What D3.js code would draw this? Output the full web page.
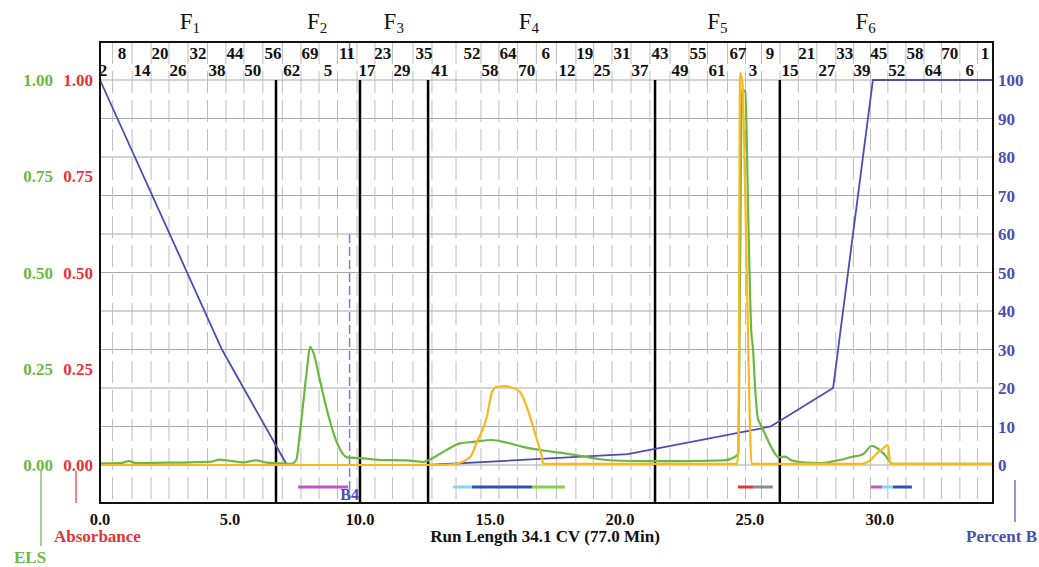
<!DOCTYPE html>
<html>
<head>
<meta charset="utf-8">
<script src="https://cdn.jsdelivr.net/npm/d3@7"></script>
<style>
  body { margin: 0; background: #fff; }
  svg text { font-family: "Liberation Serif", "DejaVu Serif", serif; font-weight: bold; }
  svg text.flabel { font-weight: normal; }
</style>
</head>
<body>
<svg id="chart" width="1039" height="567"></svg>
<script>
'use strict';

// ---- data ----
const xTicks = [0, 5, 10, 15, 20, 25, 30];
const leftTicks = [0, 0.25, 0.5, 0.75, 1];
const rightTicks = [0, 10, 20, 30, 40, 50, 60, 70, 80, 90, 100];

// tube numbers along the top and where they sit (CV)
const tubeLabels = ["2","8","14","20","26","32","38","44","50","56","62","69","5","11","17","23","29","35","41",
  "52","58","64","70","6","12","19","25","31","37","43","49","55","61","67","3","9","15","21","27","33","39","45",
  "52","58","64","70","6","1"];
const tubePos = [0.12,0.85,1.62,2.31,3.0,3.77,4.5,5.19,5.88,6.65,7.38,8.08,8.77,9.5,10.27,10.88,11.62,12.46,13.08,
  14.31,15.0,15.69,16.42,17.15,17.96,18.65,19.31,20.08,20.77,21.54,22.31,23.0,23.73,24.54,25.12,25.77,26.54,27.19,
  27.96,28.65,29.31,29.96,30.65,31.35,32.04,32.69,33.46,34.04];

// fractions F1..F6
const fractionNames = ["1", "2", "3", "4", "5", "6"];
const fractionLabelPos = [3.46, 8.35, 11.3, 16.5, 23.75, 29.45];
const fractionDividers = [6.77, 10.0, 12.62, 21.35, 26.15];

// ELS trace (CV, signal)
const els = [[0,0.004],[0.8,0.005],[1.1,0.01],[1.4,0.005],[2.5,0.006],[3.5,0.007],[4.3,0.009],[4.6,0.014],[5.0,0.011],
  [5.5,0.007],[6.0,0.012],[6.4,0.006],[7.0,0.004],[7.35,0.003],[7.55,0.013],[7.7,0.09],[7.96,0.247],[8.08,0.307],
  [8.2,0.293],[8.46,0.22],[8.73,0.143],[9.12,0.057],[9.5,0.02],[10.0,0.018],[10.8,0.013],[11.8,0.012],[12.4,0.008],
  [12.8,0.018],[13.35,0.04],[13.85,0.056],[14.35,0.06],[15.08,0.065],[15.65,0.058],[16.27,0.047],[16.92,0.039],
  [17.7,0.032],[18.46,0.024],[19.23,0.015],[20.0,0.011],[21.0,0.01],[22.5,0.01],[24.0,0.012],[24.4,0.02],[24.55,0.03],
  [24.62,0.5],[24.69,0.975],[24.82,0.97],[24.95,0.6],[25.05,0.35],[25.12,0.3],[25.2,0.2],[25.31,0.12],[25.45,0.1],
  [25.65,0.07],[25.96,0.03],[26.1,0.02],[26.35,0.022],[26.6,0.012],[27.2,0.006],[27.7,0.005],[28.46,0.013],
  [28.85,0.02],[29.35,0.028],[29.69,0.05],[29.88,0.044],[30.19,0.026],[30.5,0.003],[31.5,0.003],[34.35,0.003]];

// absorbance trace (CV, signal)
const absorbance = [[0,0.0],[13.0,0.0],[13.58,0.002],[14.23,0.02],[14.5,0.06],[14.88,0.125],[15.08,0.19],[15.27,0.203],
  [15.6,0.205],[15.88,0.2],[16.15,0.19],[16.42,0.15],[16.73,0.083],[16.92,0.04],[17.0,0.02],[17.03,0.003],[24.5,0.003],
  [24.56,0.05],[24.62,1.018],[24.7,1.0],[24.85,0.6],[25.0,0.1],[25.06,0.003],[29.3,0.003],[29.62,0.012],[29.88,0.03],
  [30.12,0.043],[30.31,0.052],[30.4,0.003],[34.35,0.003]];

// gradient (CV, %B)
const percentB = [[0,100],[4.69,30],[7.19,0],[12.6,0],[20.3,2.8],[25.8,10],[28.2,20],[29.73,100],[34.35,100]];

// collected tube bars [start CV, end CV, colour]
const tubeBars = [[7.62,9.54,"#c455c8"],[13.58,14.31,"#7fd9ea"],[14.31,16.62,"#2f4fbf"],[16.62,17.88,"#86d043"],
  [24.54,25.12,"#e23434"],[25.12,25.88,"#8a8a8a"],[29.65,30.08,"#c455c8"],[30.08,30.5,"#7fd9ea"],[30.5,31.23,"#2f4fbf"]];

const markerPos = 9.6;   // B4 marker

// ---- layout ----
const green = "#6cb83f", red = "#e5333a", blue = "#4a4db3";
const plotLeft = 100, plotRight = 993, plotTop = 42, plotBottom = 503;

const svg = d3.select("#chart");
const x = d3.scaleLinear().domain([0, 34.35]).range([plotLeft, plotRight]);
const yL = d3.scaleLinear().domain([0, 1]).range([465, 80]);
const yR = d3.scaleLinear().domain([0, 100]).range([465, 80]);

// horizontal grid
svg.append("g").selectAll("line").data(rightTicks).enter().append("line")
  .attr("x1", plotLeft).attr("x2", plotRight)
  .attr("y1", d => yR(d)).attr("y2", d => yR(d))
  .attr("stroke", "#a8a8a8").attr("stroke-width", 1);

// dashed tube boundaries (between tube labels)
const bounds = [];
for (let i = 0; i < tubePos.length - 1; i++) bounds.push((tubePos[i] + tubePos[i + 1]) / 2);
svg.append("g").selectAll("line").data(bounds).enter().append("line")
  .attr("x1", d => x(d)).attr("x2", d => x(d))
  .attr("y1", plotTop).attr("y2", plotBottom)
  .attr("stroke", "#bdbdbd").attr("stroke-width", 1)
  .attr("stroke-dasharray", "22,7");

// fraction dividers
svg.append("g").selectAll("line").data(fractionDividers).enter().append("line")
  .attr("x1", d => x(d)).attr("x2", d => x(d))
  .attr("y1", 80).attr("y2", plotBottom)
  .attr("stroke", "#000").attr("stroke-width", 2.5);

// B4 marker
svg.append("line").attr("x1", x(markerPos)).attr("x2", x(markerPos))
  .attr("y1", yL(0.6)).attr("y2", 500)
  .attr("stroke", "#7b7bd8").attr("stroke-width", 1.5).attr("stroke-dasharray", "9,4");
svg.append("line").attr("x1", x(markerPos)).attr("x2", x(markerPos))
  .attr("y1", plotTop + 1).attr("y2", 57)
  .attr("stroke", "#7b7bd8").attr("stroke-width", 1.5);

// traces
svg.append("path").datum(percentB)
  .attr("d", d3.line().x(d => x(d[0])).y(d => yR(d[1])))
  .attr("fill", "none").attr("stroke", blue).attr("stroke-width", 1.8);

const sigLine = d3.line().x(d => x(d[0])).y(d => yL(d[1])).curve(d3.curveMonotoneX);
svg.append("path").datum(els).attr("d", sigLine)
  .attr("fill", "none").attr("stroke", green).attr("stroke-width", 2.2);
svg.append("path").datum(absorbance).attr("d", sigLine)
  .attr("fill", "none").attr("stroke", "#f7b91e").attr("stroke-width", 2.2);

// collected tubes
svg.append("g").selectAll("line").data(tubeBars).enter().append("line")
  .attr("x1", d => x(d[0])).attr("x2", d => x(d[1]))
  .attr("y1", 487).attr("y2", 487)
  .attr("stroke", d => d[2]).attr("stroke-width", 3);

svg.append("text").attr("x", x(markerPos)).attr("y", 500)
  .attr("text-anchor", "middle").attr("fill", blue).attr("font-size", 16).text("B4");

// frame
svg.append("rect").attr("x", plotLeft).attr("y", plotTop)
  .attr("width", plotRight - plotLeft).attr("height", plotBottom - plotTop)
  .attr("fill", "none").attr("stroke", "#111").attr("stroke-width", 2);

// tube labels, staggered in two rows
svg.append("g").selectAll("text").data(tubeLabels).enter().append("text")
  .attr("x", (d, i) => x(tubePos[i]))
  .attr("y", (d, i) => i % 2 === 0 ? 76 : 59)
  .attr("text-anchor", "middle").attr("font-size", 17).attr("fill", "#111")
  .text(d => d);

// fraction labels
const fl = svg.append("g").selectAll("text").data(fractionNames).enter().append("text")
  .attr("class", "flabel")
  .attr("x", (d, i) => x(fractionLabelPos[i]))
  .attr("y", 29).attr("text-anchor", "middle")
  .attr("font-size", 23).attr("fill", "#111");
fl.append("tspan").text("F");
fl.append("tspan").attr("font-size", 15).attr("dy", 4).text(d => d);

// left axes
svg.append("g").selectAll("text").data(leftTicks).enter().append("text")
  .attr("x", 53).attr("y", d => yL(d) + 6)
  .attr("text-anchor", "end").attr("font-size", 17).attr("fill", green)
  .text(d => d.toFixed(2));
svg.append("g").selectAll("text").data(leftTicks).enter().append("text")
  .attr("x", 93).attr("y", d => yL(d) + 6)
  .attr("text-anchor", "end").attr("font-size", 17).attr("fill", red)
  .text(d => d.toFixed(2));

// right axis
svg.append("g").selectAll("text").data(rightTicks).enter().append("text")
  .attr("x", 998).attr("y", d => yR(d) + 6)
  .attr("font-size", 17).attr("fill", blue)
  .text(d => d);

// bottom axis
svg.append("g").selectAll("text").data(xTicks).enter().append("text")
  .attr("x", d => x(d)).attr("y", 525)
  .attr("text-anchor", "middle").attr("font-size", 16.5).attr("fill", "#111")
  .text(d => d.toFixed(1));

svg.append("text").attr("x", 545).attr("y", 542).attr("text-anchor", "middle")
  .attr("font-size", 17).attr("fill", "#111").text("Run Length 34.1 CV (77.0 Min)");

// axis captions with their little leader lines
svg.append("line").attr("x1", 41).attr("x2", 41).attr("y1", 471).attr("y2", 546)
  .attr("stroke", green).attr("stroke-width", 1.2);
svg.append("line").attr("x1", 76).attr("x2", 76).attr("y1", 471).attr("y2", 503)
  .attr("stroke", red).attr("stroke-width", 1.2);
svg.append("line").attr("x1", 1015).attr("x2", 1015).attr("y1", 480).attr("y2", 522)
  .attr("stroke", blue).attr("stroke-width", 1.2);

svg.append("text").attr("x", 14).attr("y", 563).attr("font-size", 17).attr("fill", green).text("ELS");
svg.append("text").attr("x", 54).attr("y", 542).attr("font-size", 17).attr("fill", red).text("Absorbance");
svg.append("text").attr("x", 1037).attr("y", 542).attr("text-anchor", "end")
  .attr("font-size", 17).attr("fill", blue).text("Percent B");
</script>
</body>
</html>
